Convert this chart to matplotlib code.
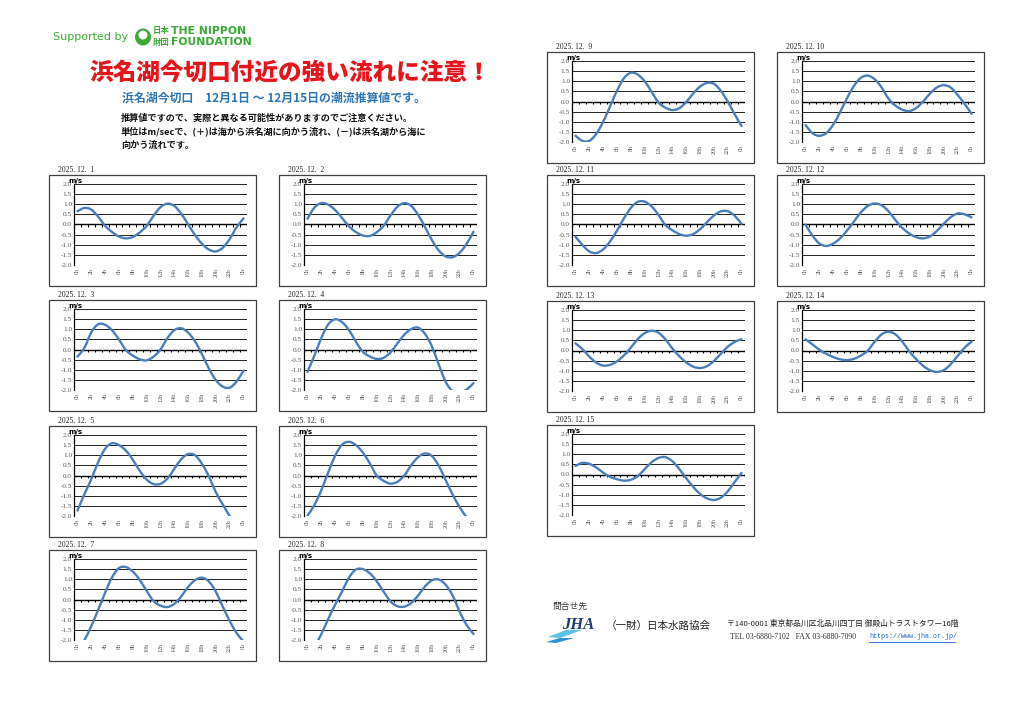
import numpy as np
import matplotlib.pyplot as plt
from matplotlib.path import Path
from matplotlib.patches import PathPatch, Rectangle, Polygon, Ellipse
from matplotlib.lines import Line2D

plt.rcParams['font.family'] = ['Noto Sans CJK JP', 'DejaVu Sans']

W, H = 1024, 724

hours = np.arange(25)
hour_ticks = np.arange(0, 25, 2)
hour_labels = ['0h', '2h', '4h', '6h', '8h', '10h', '12h', '14h', '16h', '18h', '20h', '22h', '0h']
speed_ticks = np.arange(-2.0, 2.01, 0.5)

dates = ['2025. 12.  1', '2025. 12.  2', '2025. 12.  3', '2025. 12.  4', '2025. 12.  5',
         '2025. 12.  6', '2025. 12.  7', '2025. 12.  8', '2025. 12.  9', '2025. 12. 10',
         '2025. 12. 11', '2025. 12. 12', '2025. 12. 13', '2025. 12. 14', '2025. 12. 15']

# hourly current speed (m/s), 0h .. 24h
day01 = [0.65, 0.81, 0.73, 0.38, -0.07, -0.37, -0.59, -0.68, -0.61, -0.39, -0.07, 0.43, 0.85,
         1.02, 0.91, 0.53, 0.00, -0.52, -0.95, -1.23, -1.32, -1.14, -0.71, -0.13, 0.30]
day02 = [0.28, 0.83, 1.05, 0.97, 0.71, 0.32, -0.09, -0.37, -0.54, -0.56, -0.38, -0.07, 0.44,
         0.87, 1.05, 0.91, 0.47, -0.13, -0.77, -1.28, -1.57, -1.60, -1.38, -0.95, -0.35]
day03 = [-0.35, 0.08, 0.84, 1.24, 1.21, 0.94, 0.49, -0.03, -0.30, -0.48, -0.53, -0.35, 0.00,
         0.56, 0.95, 1.04, 0.83, 0.39, -0.23, -0.94, -1.50, -1.82, -1.87, -1.57, -1.03]
day04 = [-1.10, -0.30, 0.56, 1.23, 1.48, 1.34, 0.95, 0.38, -0.11, -0.34, -0.46, -0.41, -0.14,
         0.30, 0.73, 1.00, 1.07, 0.76, 0.14, -0.76, -1.60, -2.05, -2.09, -1.96, -1.65]
day05 = [-1.72, -0.92, -0.18, 0.66, 1.31, 1.58, 1.49, 1.22, 0.77, 0.23, -0.20, -0.42, -0.41,
         -0.15, 0.33, 0.80, 1.05, 0.99, 0.57, -0.05, -0.82, -1.42, -1.98, -2.35, -2.50]
day06 = [-1.97, -1.45, -0.72, 0.15, 0.97, 1.51, 1.65, 1.49, 1.13, 0.60, 0.00, -0.26, -0.40,
         -0.31, 0.00, 0.51, 0.90, 1.08, 0.95, 0.46, -0.25, -0.95, -1.55, -2.05, -2.40]
day07 = [-2.50, -2.00, -1.30, -0.50, 0.34, 1.09, 1.54, 1.59, 1.37, 0.96, 0.42, -0.08, -0.30,
         -0.37, -0.21, 0.15, 0.62, 0.95, 1.07, 0.88, 0.38, -0.35, -1.05, -1.65, -2.05]
day08 = [-2.70, -2.30, -1.70, -0.95, -0.25, 0.39, 1.07, 1.47, 1.49, 1.29, 0.90, 0.39, -0.09,
         -0.33, -0.35, -0.17, 0.20, 0.65, 0.94, 0.98, 0.71, 0.18, -0.60, -1.25, -1.69]
day09 = [-1.68, -1.93, -1.93, -1.59, -1.00, -0.24, 0.53, 1.14, 1.41, 1.32, 0.99, 0.48, -0.05,
         -0.30, -0.42, -0.33, -0.03, 0.39, 0.73, 0.91, 0.87, 0.53, 0.00, -0.62, -1.20]
day10 = [-1.15, -1.55, -1.68, -1.55, -1.14, -0.53, 0.16, 0.76, 1.16, 1.27, 1.09, 0.69, 0.14,
         -0.20, -0.40, -0.47, -0.32, 0.00, 0.39, 0.69, 0.80, 0.68, 0.32, -0.12, -0.60]
day11 = [-0.60, -1.00, -1.32, -1.40, -1.22, -0.83, -0.30, 0.30, 0.81, 1.11, 1.12, 0.89, 0.47,
         -0.03, -0.28, -0.47, -0.55, -0.47, -0.23, 0.11, 0.44, 0.64, 0.65, 0.43, 0.03]
day12 = [0.00, -0.54, -0.93, -1.05, -0.94, -0.68, -0.30, 0.14, 0.59, 0.91, 1.03, 0.94, 0.65,
         0.22, -0.17, -0.44, -0.62, -0.68, -0.58, -0.31, 0.04, 0.36, 0.54, 0.50, 0.35]
day13 = [0.35, 0.07, -0.30, -0.59, -0.74, -0.70, -0.53, -0.24, 0.14, 0.56, 0.85, 0.97, 0.87,
         0.55, 0.10, -0.28, -0.58, -0.79, -0.86, -0.77, -0.52, -0.16, 0.18, 0.42, 0.55]
day14 = [0.55, 0.30, 0.04, -0.16, -0.32, -0.43, -0.47, -0.41, -0.25, -0.01, 0.43, 0.79, 0.92,
         0.79, 0.43, -0.04, -0.42, -0.75, -0.97, -1.05, -0.96, -0.67, -0.26, 0.14, 0.43]
day15 = [0.42, 0.57, 0.52, 0.35, 0.09, -0.11, -0.23, -0.30, -0.26, -0.08, 0.26, 0.60, 0.81,
         0.85, 0.65, 0.27, -0.18, -0.60, -0.95, -1.17, -1.25, -1.14, -0.83, -0.37, 0.08]

days = [day01, day02, day03, day04, day05, day06, day07, day08,
        day09, day10, day11, day12, day13, day14, day15]

# top-left corner (px) of each chart frame
boxes = [(49, 175), (279, 175), (49, 300), (279, 300), (49, 426), (279, 426), (49, 550), (279, 550),
         (547, 52), (777, 52), (547, 175), (777, 175), (547, 301), (777, 301), (547, 425)]
BW, BH = 207, 111

LINE = '#4a7ebb'
GRAY = '#595959'


def fx(x):
    return x / W


def fy(y):
    return 1 - y / H


def smooth_path(x, y):
    # excel style smoothed line: catmull-rom as cubic bezier segments
    verts = [(x[0], y[0])]
    codes = [Path.MOVETO]
    n = len(x)
    for i in range(n - 1):
        xa, ya = (x[i - 1], y[i - 1]) if i > 0 else (x[i], y[i])
        xb, yb = (x[i + 2], y[i + 2]) if i + 2 < n else (x[i + 1], y[i + 1])
        c1 = (x[i] + (x[i + 1] - xa) / 6, y[i] + (y[i + 1] - ya) / 6)
        c2 = (x[i + 1] - (xb - x[i]) / 6, y[i + 1] - (yb - y[i]) / 6)
        verts += [c1, c2, (x[i + 1], y[i + 1])]
        codes += [Path.CURVE4] * 3
    return Path(verts, codes)


fig = plt.figure(figsize=(W / 100, H / 100), dpi=100)
fig.patch.set_facecolor('white')

for (bx, by), vals, date in zip(boxes, days, dates):
    fig.patches.append(Rectangle((fx(bx), fy(by + BH)), BW / W, BH / H, transform=fig.transFigure,
                                 fill=False, ec='#404040', lw=0.9))
    fig.text(fx(bx + 9), fy(by - 5), date, fontsize=5.5, family='Liberation Serif',
             va='center', ha='left', color='#222222')

    ax = fig.add_axes([fx(bx + 25), fy(by + 8.7 + 81.6), 173 / W, 81.6 / H])
    ax.set_xlim(-0.5, 24.5)
    ax.set_ylim(-2, 2)
    for s in ['top', 'right', 'bottom']:
        ax.spines[s].set_visible(False)
    ax.spines['left'].set_color('black')
    ax.spines['left'].set_linewidth(0.9)

    ax.set_yticks(speed_ticks)
    ax.set_yticklabels([f'{v:.1f}' for v in speed_ticks], fontsize=5.2, color=GRAY,
                       family='Liberation Serif')
    ax.tick_params(axis='y', length=0, pad=1.5)
    ax.yaxis.grid(True, color='#111111', lw=0.65)
    ax.set_axisbelow(True)

    ax.set_xticks(hour_ticks)
    ax.set_xticklabels(hour_labels, rotation=90, fontsize=4.3, color=GRAY, family='Liberation Serif')
    ax.tick_params(axis='x', length=0, pad=2)

    ax.axhline(0, color='black', lw=1.0, zorder=2)
    ax.vlines(np.arange(-0.5, 25, 1), -0.12, 0, color='black', lw=0.8, zorder=2)

    ax.add_patch(PathPatch(smooth_path(hours, vals), fill=False, ec=LINE, lw=1.7,
                           capstyle='round', joinstyle='round', zorder=3))
    ax.text(0.01, 1.0, 'm/s', transform=ax.transAxes, ha='center', va='bottom',
            fontsize=5, weight='bold', family='DejaVu Sans')

# header
green = '#3aa935'
fig.text(fx(53), fy(37), 'Supported by', fontsize=8, color=green, va='center', family='DejaVu Sans')
fig.patches.append(Ellipse((fx(143), fy(37)), 16 / W, 17 / H, transform=fig.transFigure,
                           fc=green, ec='none'))
fig.patches.append(Ellipse((fx(143), fy(35)), 9 / W, 9 / H, transform=fig.transFigure,
                           fc='white', ec='none'))
fig.text(fx(153), fy(31), '日本', fontsize=6, color=green, va='center', weight='bold')
fig.text(fx(153), fy(42), '財団', fontsize=6, color=green, va='center', weight='bold')
fig.text(fx(171), fy(31), 'THE NIPPON', fontsize=7.8, color=green, va='center', weight='bold',
         family='DejaVu Sans')
fig.text(fx(171), fy(42), 'FOUNDATION', fontsize=7.8, color=green, va='center', weight='bold',
         family='DejaVu Sans')

fig.text(fx(290), fy(72), '浜名湖今切口付近の強い流れに注意！', fontsize=17, color='#e8141b',
         ha='center', va='center', weight='black')
fig.text(fx(122), fy(98), '浜名湖今切口　12月1日 ～ 12月15日の潮流推算値です。', fontsize=8.6,
         color='#2e75b6', ha='left', va='center', weight='bold')
notes = ['推算値ですので、実際と異なる可能性がありますのでご注意ください。',
         '単位はm/secで、(＋)は海から浜名湖に向かう流れ、(－)は浜名湖から海に',
         '向かう流れです。']
for i, line in enumerate(notes):
    fig.text(fx(121), fy(118 + 13.5 * i), line, fontsize=6.6, color='#111111', ha='left',
             va='center', weight='bold')

# footer
fig.text(fx(552), fy(606), '問合せ先', fontsize=6.3, color='#333333', va='center')
fig.patches.append(Polygon([(fx(548), fy(637)), (fx(566), fy(630)), (fx(582), fy(630)), (fx(560), fy(638))],
                           closed=True, transform=fig.transFigure, fc='#5bc0eb', ec='none'))
fig.patches.append(Polygon([(fx(546), fy(642)), (fx(560), fy(638)), (fx(574), fy(638)), (fx(556), fy(643))],
                           closed=True, transform=fig.transFigure, fc='#2a8fd0', ec='none'))
fig.text(fx(562), fy(625), 'JHA', fontsize=12, color='#1f3b7a', style='italic', weight='bold',
         family='Liberation Serif', va='center')
fig.text(fx(606), fy(626), '（一財）日本水路協会', fontsize=7.6, color='#222222', va='center')
fig.text(fx(727), fy(624), '〒140-0001 東京都品川区北品川四丁目 御殿山トラストタワー16階', fontsize=5.6,
         color='#222222', va='center')
fig.text(fx(730), fy(637), 'TEL 03-6880-7102   FAX 03-6880-7090', fontsize=5.6, color='#333333',
         va='center', family='Liberation Serif')
fig.text(fx(869), fy(637), 'https://www.jha.or.jp/', fontsize=4.8, color='#1f5fd0',
         va='center', family='Liberation Mono')
fig.lines.append(Line2D([fx(869), fx(955)], [fy(641.5), fy(641.5)], transform=fig.transFigure,
                        color='#1f5fd0', lw=0.6))

fig.savefig('out.png', dpi=100, facecolor='white')
